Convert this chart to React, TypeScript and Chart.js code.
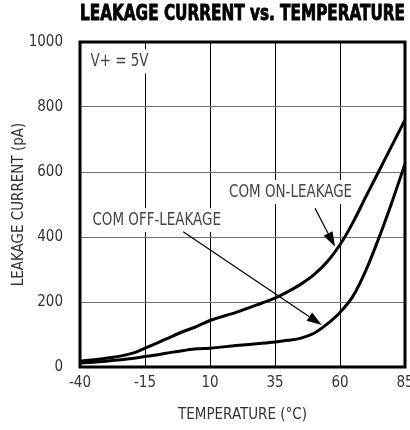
import React, { useEffect, useRef } from "react";
import { Chart, registerables } from "chart.js";

Chart.register(...registerables);

// ---- data ----
const chartTitle = "LEAKAGE CURRENT vs. TEMPERATURE";
const xAxisTitle = "TEMPERATURE (°C)";
const yAxisTitle = "LEAKAGE CURRENT (pA)";

const temperatures = [-40, -30, -20, -15, -10, -5, 0, 5, 10, 20, 30, 35, 40, 45, 50, 55, 60, 65, 70, 75, 80, 85];
const onLeakage = [18, 27, 42, 58, 75, 93, 110, 125, 143, 168, 197, 212, 232, 255, 284, 323, 376, 445, 525, 603, 682, 760];
const offLeakage = [12, 18, 26, 32, 38, 45, 51, 56, 58, 66, 73, 77, 82, 89, 104, 132, 168, 218, 298, 398, 508, 625];

const xMin = -40;
const xMax = 85;
const xStep = 25;
const yMin = 0;
const yMax = 1000;
const yStep = 200;

const noteLabels = [
  { text: "V+ = 5V", x: -24.8, y: 940 },
  { text: "COM ON-LEAKAGE", x: 41, y: 538 },
  { text: "COM OFF-LEAKAGE", x: -10.5, y: 452 },
];
const noteArrows = [
  { fromX: 50.4, fromY: 488, toX: 58.1, toY: 370 },
  { fromX: -0.3, fromY: 416, toX: 53.0, toY: 129 },
];

const NARROW = '"Liberation Sans Narrow", "DejaVu Sans Condensed", "Arial Narrow", sans-serif';
const TEXT_SQUEEZE = 0.88;

const overlayPlugin = {
  id: "overlay",
  beforeDatasetsDraw(chart: any) {
    const { ctx, scales } = chart;
    const x = scales.x;
    const y = scales.y;
    ctx.save();
    ctx.font = `17px ${NARROW}`;
    ctx.textAlign = "center";
    ctx.textBaseline = "middle";
    for (const l of noteLabels) {
      const px = x.getPixelForValue(l.x);
      const py = y.getPixelForValue(l.y);
      const w = ctx.measureText(l.text).width * TEXT_SQUEEZE;
      ctx.fillStyle = "#fff";
      ctx.fillRect(px - w / 2 - 4, py - 12, w + 8, 24);
      ctx.fillStyle = "#444";
      ctx.fillText(l.text, px, py, w);
    }
    ctx.restore();
  },
  afterDatasetsDraw(chart: any) {
    const { ctx, scales, chartArea: a } = chart;
    const x = scales.x;
    const y = scales.y;
    ctx.save();
    ctx.strokeStyle = "#000";
    ctx.fillStyle = "#000";
    ctx.lineWidth = 1.2;
    for (const ar of noteArrows) {
      const x1 = x.getPixelForValue(ar.fromX);
      const y1 = y.getPixelForValue(ar.fromY);
      const x2 = x.getPixelForValue(ar.toX);
      const y2 = y.getPixelForValue(ar.toY);
      const ang = Math.atan2(y2 - y1, x2 - x1);
      const hl = 15;
      const hw = 5;
      const bx = x2 - hl * Math.cos(ang);
      const by = y2 - hl * Math.sin(ang);
      ctx.beginPath();
      ctx.moveTo(x1, y1);
      ctx.lineTo(bx, by);
      ctx.stroke();
      ctx.beginPath();
      ctx.moveTo(x2, y2);
      ctx.lineTo(bx + hw * Math.sin(ang), by - hw * Math.cos(ang));
      ctx.lineTo(bx - hw * Math.sin(ang), by + hw * Math.cos(ang));
      ctx.closePath();
      ctx.fill();
    }
    ctx.lineWidth = 3;
    ctx.strokeRect(a.left, a.top, a.right - a.left, a.bottom - a.top);
    ctx.restore();
  },
  afterDraw(chart: any) {
    const { ctx, chartArea: a } = chart;
    ctx.save();
    ctx.font = `bold 21px ${NARROW}`;
    ctx.textAlign = "center";
    ctx.textBaseline = "middle";
    ctx.fillStyle = "#000";
    ctx.strokeStyle = "#000";
    ctx.lineWidth = 0.8;
    const cx = (a.left + a.right) / 2;
    const w = a.right - a.left;
    ctx.fillText(chartTitle, cx, 15, w);
    ctx.strokeText(chartTitle, cx, 15, w);
    ctx.restore();
  },
};

export default function App() {
  const ref = useRef<HTMLCanvasElement | null>(null);
  useEffect(() => {
    if (!ref.current) return;
    const tickFont = { family: NARROW, size: 15 };
    const chart = new Chart(ref.current, {
      type: "line",
      data: {
        datasets: [
          {
            label: "COM ON-LEAKAGE",
            data: temperatures.map((t, i) => ({ x: t, y: onLeakage[i] })),
            borderColor: "#000",
            borderWidth: 3,
            pointRadius: 0,
            cubicInterpolationMode: "monotone",
            fill: false,
          },
          {
            label: "COM OFF-LEAKAGE",
            data: temperatures.map((t, i) => ({ x: t, y: offLeakage[i] })),
            borderColor: "#000",
            borderWidth: 3,
            pointRadius: 0,
            cubicInterpolationMode: "monotone",
            fill: false,
          },
        ],
      },
      options: {
        animation: false,
        responsive: false,
        devicePixelRatio: 1,
        layout: { padding: { left: 0, top: 42, right: 25, bottom: 0 } },
        plugins: {
          legend: { display: false },
          tooltip: { enabled: false },
          title: { display: false },
        },
        scales: {
          x: {
            type: "linear",
            min: xMin,
            max: xMax,
            ticks: {
              stepSize: xStep,
              color: "#333",
              font: tickFont,
              padding: 7,
              callback: (v: any) => String(v),
            },
            grid: { color: "#000", lineWidth: 1, drawTicks: false },
            border: { display: false },
            title: {
              display: true,
              text: xAxisTitle,
              color: "#333",
              font: { family: NARROW, size: 15 },
              padding: { top: 0, bottom: 6 },
            },
            afterFit: (s: any) => {
              s.height = 63;
            },
          },
          y: {
            type: "linear",
            min: yMin,
            max: yMax,
            ticks: {
              stepSize: yStep,
              color: "#333",
              font: tickFont,
              padding: 17,
              callback: (v: any) => String(v),
            },
            grid: { color: "#707070", lineWidth: 1, drawTicks: false },
            border: { display: false },
            title: {
              display: true,
              text: yAxisTitle,
              color: "#333",
              font: { family: NARROW, size: 15 },
              padding: { top: 10, bottom: 0 },
            },
            afterFit: (s: any) => {
              s.width = 80;
            },
          },
        },
      },
      plugins: [overlayPlugin],
    } as any);
    return () => chart.destroy();
  }, []);
  return (
    <div style={{ position: "fixed", left: 0, top: 0, width: 410, height: 430, overflow: "hidden", background: "#fff" }}>
      <canvas ref={ref} width={430} height={430} style={{ width: 430, height: 430, display: "block" }} />
    </div>
  );
}
